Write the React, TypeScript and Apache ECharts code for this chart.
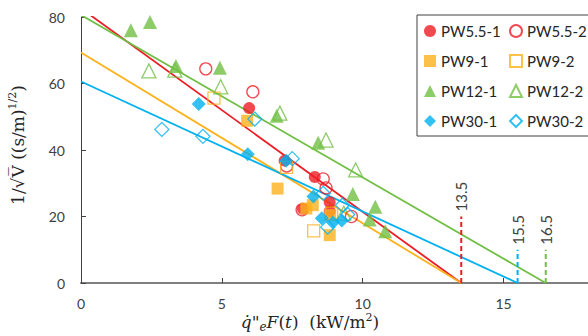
import React, { useEffect, useRef } from "react";
import * as echarts from "echarts";

const RED = "#ED1C24";
const YELLOW = "#FDB21B";
const GREEN = "#70BF44";
const BLUE = "#00B0F0";

// scatter data [x, y]
const pw55_1 = [[5.97, 52.6], [7.23, 36.8], [8.3, 31.9], [7.88, 22.3], [8.83, 24.3], [8.83, 21.6]];
const pw55_2 = [[4.43, 64.4], [6.1, 57.5], [7.3, 35.2], [8.6, 31.3], [8.7, 28.6], [9.6, 20.0], [7.85, 22.0]];
const pw9_1 = [[5.9, 48.8], [6.98, 28.4], [8.0, 22.4], [8.23, 23.4], [8.83, 14.4], [8.85, 20.4]];
const pw9_2 = [[4.72, 55.6], [7.3, 34.8], [8.26, 15.7], [8.9, 21.0]];
const pw12_1 = [[1.77, 76.0], [2.45, 78.5], [3.37, 65.3], [4.93, 64.7], [6.95, 50.3], [8.42, 42.2], [9.65, 26.8], [10.45, 22.9], [10.25, 19.1], [10.8, 15.6]];
const pw12_2 = [[2.41, 63.8], [3.33, 64.0], [4.96, 59.0], [7.06, 51.1], [8.7, 43.0], [9.75, 34.0], [9.33, 21.0]];
const pw30_1 = [[4.18, 53.8], [5.92, 38.7], [7.28, 36.8], [8.25, 26.0], [8.55, 19.5], [8.94, 18.2], [9.26, 18.8]];
const pw30_2 = [[2.87, 46.2], [4.33, 44.1], [6.17, 49.3], [7.5, 37.4], [8.6, 27.0], [9.28, 23.4], [9.47, 20.6], [8.76, 16.8]];

// fitted lines: [x, y] end points
const fitRed = [[0, 82.6], [13.5, 0]];
const fitYellow = [[0, 69.3], [13.5, 0]];
const fitGreen = [[0, 80.6], [16.5, 0]];
const fitBlue = [[0, 60.6], [15.5, 0]];

// intercept markers [x, height, label]
const interceptRed = [13.5, 20, "13.5"];
const interceptBlue = [15.5, 10, "15.5"];
const interceptGreen = [16.5, 10, "16.5"];

const legendNames = ["PW5.5-1", "PW5.5-2", "PW9-1", "PW9-2", "PW12-1", "PW12-2", "PW30-1", "PW30-2"];

const TICK_FONT = "Lato";
const TITLE_FONT = "DejaVu Serif";

function scatter(name: string, data: number[][], symbol: string, size: number, color: string, hollow: boolean) {
  return {
    name,
    type: "scatter",
    data,
    symbol,
    symbolSize: size,
    itemStyle: hollow
      ? { color: "rgba(255,255,255,0)", borderColor: color, borderWidth: 1.3 }
      : { color, borderWidth: 0 },
    z: 3,
  };
}

function fitLine(name: string, data: number[][], color: string) {
  return {
    name,
    type: "line",
    data,
    symbol: "none",
    clip: true,
    lineStyle: { color, width: 1.8 },
    z: 2,
    silent: true,
  };
}

function intercept(name: string, item: (number | string)[], color: string) {
  const x = item[0] as number;
  const h = item[1] as number;
  const label = item[2] as string;
  return {
    name,
    type: "line",
    showSymbol: true,
    symbol: "circle",
    symbolSize: 0,
    data: [
      [x, 0],
      {
        value: [x, h],
        label: {
          show: true,
          position: "top",
          distance: 5,
          rotate: 90,
          align: "left",
          verticalAlign: "middle",
          formatter: label,
          fontFamily: TICK_FONT,
          fontSize: 15,
          color: "#404040",
        },
      },
    ],
    lineStyle: { color, width: 2, type: [5, 3] },
    itemStyle: { color },
    z: 2,
    silent: true,
  };
}

export default function App() {
  const ref = useRef<HTMLDivElement>(null);
  useEffect(() => {
    if (!ref.current) return;
    const chart = echarts.init(ref.current, null, { renderer: "svg" });
    chart.setOption({
      animation: false,
      grid: { left: 81, right: 0, top: 17, bottom: 53, containLabel: false },
      xAxis: {
        type: "value",
        min: 0,
        max: 18,
        interval: 5,
        axisLine: { show: true, lineStyle: { color: "#7f7f7f", width: 2 } },
        axisTick: { show: true, inside: true, length: 5, lineStyle: { color: "#404040" } },
        axisLabel: { margin: 13, fontSize: 14, fontFamily: TICK_FONT, color: "#404040", showMaxLabel: false },
        splitLine: { show: false },
      },
      yAxis: {
        type: "value",
        min: 0,
        max: 80,
        interval: 20,
        axisLine: { show: true, lineStyle: { color: "#404040", width: 1 } },
        axisTick: { show: true, inside: true, length: 5, lineStyle: { color: "#404040" } },
        axisLabel: { margin: 16, fontSize: 14, fontFamily: TICK_FONT, color: "#404040" },
        splitLine: { show: false },
      },
      legend: {
        data: legendNames,
        orient: "horizontal",
        left: 417,
        top: 15,
        width: 200,
        padding: [5, 3, 4, 7],
        itemWidth: 12,
        itemHeight: 12,
        itemGap: 8,
        borderColor: "#404040",
        borderWidth: 1,
        backgroundColor: "#ffffff",
        textStyle: { fontFamily: TICK_FONT, fontSize: 15, color: "#262626", width: 60, lineHeight: 22 },
      },
      graphic: [
        {
          type: "text",
          x: 310,
          y: 322,
          style: {
            text: '{i|q\u0307}"{sub|e}{i|F}({i|t})  (kW/m{sup|2})',
            fontFamily: TITLE_FONT,
            fontSize: 17,
            fill: "#262626",
            textAlign: "center",
            textVerticalAlign: "middle",
            rich: {
              i: { fontFamily: TITLE_FONT, fontSize: 17, fontStyle: "italic", fill: "#262626" },
              sub: { fontFamily: TITLE_FONT, fontSize: 12, fontStyle: "italic", fill: "#262626", padding: [9, 0, 0, 0] },
              sup: { fontFamily: TITLE_FONT, fontSize: 11, fill: "#262626", padding: [0, 0, 9, 0] },
            },
          },
        },
        {
          type: "text",
          x: 18,
          y: 145,
          rotation: Math.PI / 2,
          style: {
            text: "1/\u221AV\u0305 ((s/m){sup|1/2})",
            fontFamily: TITLE_FONT,
            fontSize: 17,
            fill: "#262626",
            textAlign: "center",
            textVerticalAlign: "middle",
            rich: {
              sup: { fontFamily: TITLE_FONT, fontSize: 11, fill: "#262626", padding: [0, 0, 11, 0] },
            },
          },
        },
      ],
      series: [
        fitLine("fitRed", fitRed, RED),
        fitLine("fitYellow", fitYellow, YELLOW),
        fitLine("fitGreen", fitGreen, GREEN),
        fitLine("fitBlue", fitBlue, BLUE),
        intercept("intRed", interceptRed, RED),
        intercept("intBlue", interceptBlue, BLUE),
        intercept("intGreen", interceptGreen, GREEN),
        scatter("PW5.5-1", pw55_1, "circle", 12, RED, false),
        scatter("PW5.5-2", pw55_2, "circle", 12, RED, true),
        scatter("PW9-1", pw9_1, "rect", 12, YELLOW, false),
        scatter("PW9-2", pw9_2, "rect", 12, YELLOW, true),
        scatter("PW12-1", pw12_1, "triangle", 14, GREEN, false),
        scatter("PW12-2", pw12_2, "triangle", 14, GREEN, true),
        scatter("PW30-1", pw30_1, "diamond", 14, BLUE, false),
        scatter("PW30-2", pw30_2, "diamond", 14, BLUE, true),
      ],
    });
    return () => chart.dispose();
  }, []);
  return <div ref={ref} style={{ width: 588, height: 336, position: "absolute", left: 0, top: 0 }} />;
}
